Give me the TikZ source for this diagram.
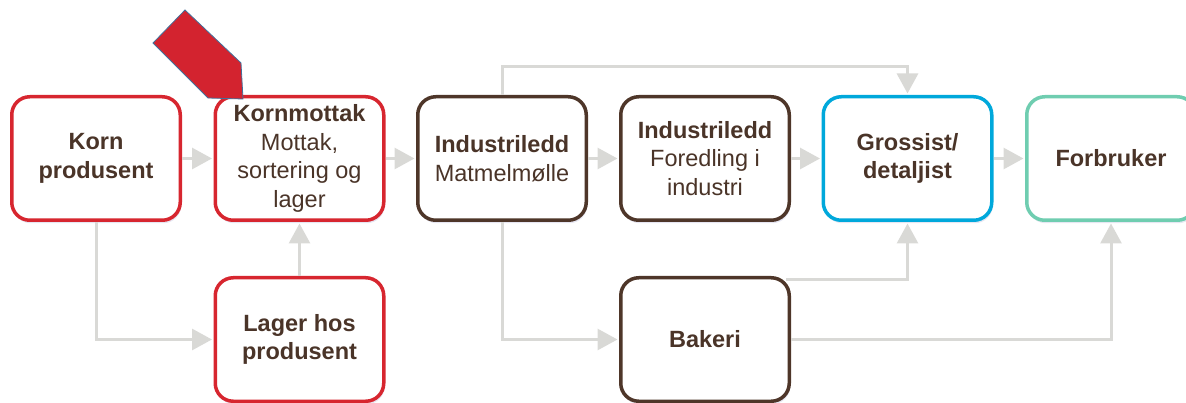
\documentclass[tikz,border=0pt]{standalone}
\usepackage{fontspec}
\setmainfont{Liberation Sans}
\usetikzlibrary{arrows.meta,shadows}
\definecolor{txt}{HTML}{4A3428}
\definecolor{cred}{HTML}{D7262F}
\definecolor{cbrown}{HTML}{4E3629}
\definecolor{cblue}{HTML}{00A8DB}
\definecolor{cteal}{HTML}{6FCDB0}
\definecolor{cgrey}{HTML}{D9D9D6}
\definecolor{arrred}{HTML}{D3232F}
\definecolor{arredge}{HTML}{41719C}
\tikzset{
  box/.style={rectangle, rounded corners=18pt, line width=3.5pt, fill=white,
    minimum width=168.5pt, minimum height=123.5pt, align=center, text=txt,
    font=\fontsize{23.5}{28.5}\selectfont, inner sep=2pt,
    drop shadow={shadow xshift=1pt, shadow yshift=-3pt, fill=blue!30!gray, opacity=0.15}},
  redbox/.style={box, draw=cred},
  brownbox/.style={box, draw=cbrown},
  bluebox/.style={box, draw=cblue},
  tealbox/.style={box, draw=cteal},
  conn/.style={draw=cgrey, line width=3pt, -{Triangle[width=21pt,length=20pt]}, shorten >=1.5pt},
  plainconn/.style={draw=cgrey, line width=3pt}
}
\begin{document}
\begin{tikzpicture}[x=1pt,y=-1pt]
\useasboundingbox (0,0) rectangle (1186,403);
\clip (0,0) rectangle (1186,403);
\node[redbox] (korn) at (96,158.5) {\textbf{Korn}\\\textbf{produsent}};
\node[redbox] (mottak) at (299.5,158.5) {\textbf{Kornmottak}\\Mottak,\\sortering og\\lager};
\node[brownbox] (mel) at (502,158.5) {\textbf{Industriledd}\\Matmelmølle};
\node[brownbox] (fored) at (705,158.5) {\textbf{Industriledd}\\Foredling i\\industri};
\node[bluebox] (gross) at (907.5,158.5) {\textbf{Grossist/}\\\textbf{detaljist}};
\node[tealbox] (forb) at (1111,158.5) {\textbf{Forbruker}};
\node[redbox] (lager) at (299.5,339.5) {\textbf{Lager hos}\\\textbf{produsent}};
\node[brownbox] (bak) at (705,339.5) {\textbf{Bakeri}};
\coordinate (top) at (0,67);
\coordinate (bakstart) at (786,280);
\draw[conn] (korn) -- (mottak);
\draw[conn] (mottak) -- (mel);
\draw[conn] (mel) -- (fored);
\draw[conn] (fored) -- (gross);
\draw[conn] (gross) -- (forb);
\draw[conn] (korn.south) |- (lager.west);
\draw[conn] (lager.north) -- (mottak.south);
\draw[conn] (mel.north) -- (mel.north |- top) -| (gross.north);
\draw[conn] (mel.south) |- (bak.west);
\draw[conn] (bakstart) -| (gross.south);
\draw[conn] (bak.east) -| (forb.south);
\draw[fill=arrred, draw=arredge, line width=0.8pt, line join=miter]
  (185,10) -- (153,43) -- (208,98) -- (243,99) -- (241,63) -- cycle;
\end{tikzpicture}
\end{document}
